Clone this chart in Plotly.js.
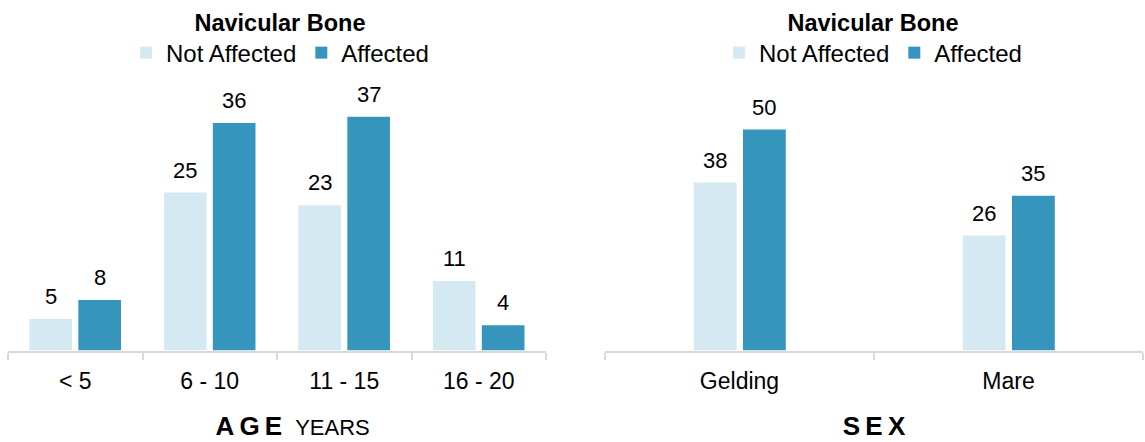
<!DOCTYPE html>
<html>
<head>
<meta charset="utf-8">
<script src="https://cdn.plot.ly/plotly-3.0.1.min.js"></script>
<style>
  html, body { margin: 0; padding: 0; background: #ffffff; }
  #chart { width: 1145px; height: 442px; }
</style>
</head>
<body>
<div id="chart"></div>
<script>
// ---- data ----
const seriesNames = ['Not Affected', 'Affected'];
const ageCategories = ['< 5', '6 - 10', '11 - 15', '16 - 20'];
const ageNotAffected = [5, 25, 23, 11];
const ageAffected = [8, 36, 37, 4];
const sexCategories = ['Gelding', 'Mare'];
const sexNotAffected = [38, 26];
const sexAffected = [50, 35];
const legendTitle = 'Navicular Bone';

// ---- style ----
const FONT = 'Liberation Sans, Arial, Helvetica, sans-serif';
const LIGHT = '#d4e9f1';
const DARK = '#3595bc';
const AXIS_GREY = '#d9d9d9';

function barTrace(name, cats, vals, color, xa, ya, legend, offset, width) {
  return {
    type: 'bar', name: name, x: cats, y: vals,
    xaxis: xa, yaxis: ya, legend: legend,
    marker: { color: color, line: { width: 0 } },
    offset: offset, width: width,
    hoverinfo: 'x+y+name'
  };
}

const traces = [
  barTrace(seriesNames[0], ageCategories, ageNotAffected, LIGHT, 'x', 'y', 'legend', -0.341, 0.317),
  barTrace(seriesNames[1], ageCategories, ageAffected, DARK, 'x', 'y', 'legend', 0.023, 0.317),
  barTrace(seriesNames[0], sexCategories, sexNotAffected, LIGHT, 'x2', 'y2', 'legend2', -0.170, 0.159),
  barTrace(seriesNames[1], sexCategories, sexAffected, DARK, 'x2', 'y2', 'legend2', 0.013, 0.159)
];

// value labels above bars
function labels(cats, vals, xref, yref, xshift) {
  return cats.map((c, i) => ({
    x: c, y: vals[i], xref: xref, yref: yref,
    text: String(vals[i]), showarrow: false,
    xanchor: 'center', yanchor: 'bottom', xshift: xshift, yshift: 8,
    font: { family: FONT, size: 22, color: '#000000' }
  }));
}
const annotations = [].concat(
  labels(ageCategories, ageNotAffected, 'x', 'y', -24.5),
  labels(ageCategories, ageAffected, 'x', 'y', 24.5),
  labels(sexCategories, sexNotAffected, 'x2', 'y2', -24.5),
  labels(sexCategories, sexAffected, 'x2', 'y2', 24.5)
);

const xAxisBase = {
  type: 'category',
  showline: true, linecolor: AXIS_GREY, linewidth: 2,
  ticks: 'outside', tickson: 'boundaries', ticklen: 7, tickwidth: 2, tickcolor: AXIS_GREY,
  ticklabelstandoff: 9,
  showgrid: false, zeroline: false,
  tickfont: { family: FONT, size: 23, color: '#000000' },
  fixedrange: true
};

const legendBase = {
  orientation: 'h', xanchor: 'center', yanchor: 'top',
  font: { family: FONT, size: 24, color: '#000000' },
  title: { text: '<b>' + legendTitle + '</b>', side: 'top center',
           font: { family: FONT, size: 23.5, color: '#000000' } },
  bgcolor: 'rgba(0,0,0,0)', borderwidth: 0,
  traceorder: 'normal', itemclick: false, itemdoubleclick: false
};

const layout = {
  width: 1145, height: 442,
  margin: { l: 0, r: 0, t: 0, b: 0, autoexpand: false },
  paper_bgcolor: '#ffffff', plot_bgcolor: '#ffffff',
  barmode: 'overlay',
  showlegend: true,
  font: { family: FONT, color: '#000000' },
  xaxis: Object.assign({}, xAxisBase, {
    domain: [8 / 1145, 546 / 1145], anchor: 'y',
    title: { text: '<b>\u2003\u2009A\u2009G\u2009E</b>\u2002<span style="font-size:22px">YEARS</span>',
             font: { family: FONT, size: 26, color: '#000000' }, standoff: 24 }
  }),
  xaxis2: Object.assign({}, xAxisBase, {
    domain: [605 / 1145, 1143 / 1145], anchor: 'y2',
    title: { text: '<b>S\u2009E\u2009X</b>',
             font: { family: FONT, size: 26, color: '#000000' }, standoff: 24 }
  }),
  yaxis: { domain: [91.5 / 442, 362 / 442], range: [0, 42.8], visible: false, fixedrange: true },
  yaxis2: { domain: [91.5 / 442, 362 / 442], range: [0, 61.2], visible: false, fixedrange: true, anchor: 'x2' },
  legend: Object.assign({}, legendBase, { x: 280 / 1145, y: 1.0 }),
  legend2: Object.assign({}, legendBase, { x: 873 / 1145, y: 1.0 }),
  annotations: annotations
};

Plotly.newPlot('chart', traces, layout, { displayModeBar: false, staticPlot: false });
</script>
</body>
</html>
